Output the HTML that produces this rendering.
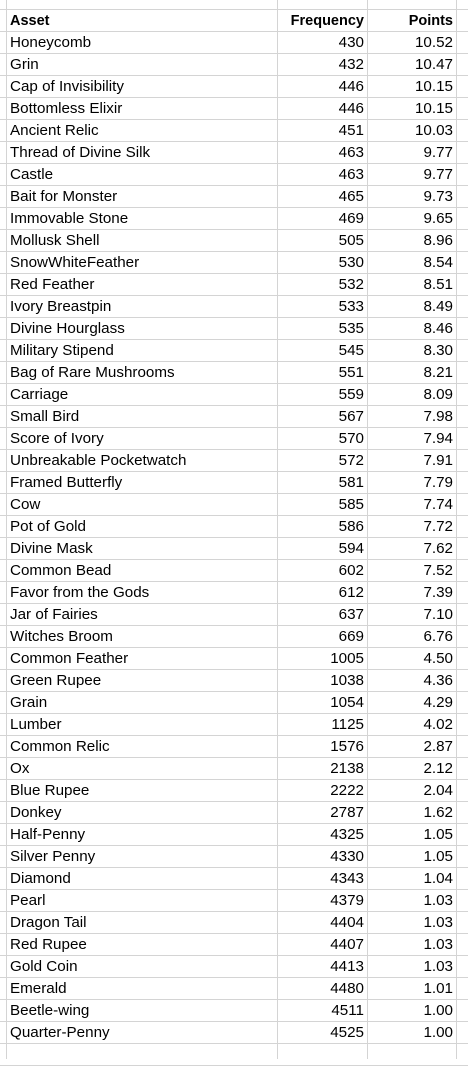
<!DOCTYPE html>
<html><head><meta charset="utf-8">
<style>
html,body{margin:0;padding:0;background:#fff;width:468px;height:1059px;overflow:hidden;}
#sheet{position:absolute;left:0;top:0;width:468px;height:1059px;font-family:"Liberation Sans",Arial,sans-serif;font-size:15.2px;color:#000;}
.hl{position:absolute;left:0;width:468px;height:1px;background:#d4d4d4;}
.vl{position:absolute;top:0;width:1px;height:1059px;background:#d4d4d4;}
.cell{position:absolute;height:22px;line-height:24px;white-space:nowrap;overflow:hidden;}
.b{font-weight:bold;font-size:14.5px;}
</style></head>
<body>
<div id="sheet"></div>
<script>
const assets = ["Honeycomb","Grin","Cap of Invisibility","Bottomless Elixir","Ancient Relic","Thread of Divine Silk","Castle","Bait for Monster","Immovable Stone","Mollusk Shell","SnowWhiteFeather","Red Feather","Ivory Breastpin","Divine Hourglass","Military Stipend","Bag of Rare Mushrooms","Carriage","Small Bird","Score of Ivory","Unbreakable Pocketwatch","Framed Butterfly","Cow","Pot of Gold","Divine Mask","Common Bead","Favor from the Gods","Jar of Fairies","Witches Broom","Common Feather","Green Rupee","Grain","Lumber","Common Relic","Ox","Blue Rupee","Donkey","Half-Penny","Silver Penny","Diamond","Pearl","Dragon Tail","Red Rupee","Gold Coin","Emerald","Beetle-wing","Quarter-Penny"];
const frequency = [430,432,446,446,451,463,463,465,469,505,530,532,533,535,545,551,559,567,570,572,581,585,586,594,602,612,637,669,1005,1038,1054,1125,1576,2138,2222,2787,4325,4330,4343,4379,4404,4407,4413,4480,4511,4525];
const points = ["10.52","10.47","10.15","10.15","10.03","9.77","9.77","9.73","9.65","8.96","8.54","8.51","8.49","8.46","8.30","8.21","8.09","7.98","7.94","7.91","7.79","7.74","7.72","7.62","7.52","7.39","7.10","6.76","4.50","4.36","4.29","4.02","2.87","2.12","2.04","1.62","1.05","1.05","1.04","1.03","1.03","1.03","1.03","1.01","1.00","1.00"];
const headers = ["Asset","Frequency","Points"];

const sheet = document.getElementById('sheet');
const top0 = 9, rowH = 22;
const nRows = assets.length + 2;
for (let k = 0; k <= nRows; k++) {
  const l = document.createElement('div');
  l.className = 'hl';
  l.style.top = (top0 + k * rowH) + 'px';
  
  
  sheet.appendChild(l);
}
[6, 277, 367, 456].forEach(x => {
  const l = document.createElement('div');
  l.className = 'vl';
  l.style.left = x + 'px';
  
  
  sheet.appendChild(l);
});
function cell(text, row, col, bold, name) {
  const c = document.createElement('div');
  c.className = 'cell' + (bold ? ' b' : '');
  c.textContent = text;
  c.style.top = (top0 + row * rowH) + 'px';
  if (col === 0) { c.style.left = '10px'; c.style.width = '265px'; }
  else if (col === 1) { c.style.left = '278px'; c.style.width = '86px'; c.style.textAlign = 'right'; }
  else { c.style.left = '368px'; c.style.width = '85px'; c.style.textAlign = 'right'; }
  
  
  sheet.appendChild(c);
}
cell(headers[0], 0, 0, true, 'asset-header');
cell(headers[1], 0, 1, true, 'frequency-header');
cell(headers[2], 0, 2, true, 'points-header');
for (let i = 0; i < assets.length; i++) {
  cell(assets[i], i + 1, 0, false, 'asset-cell');
  cell(String(frequency[i]), i + 1, 1, false, 'frequency-cell');
  cell(points[i], i + 1, 2, false, 'points-cell');
}
</script>
</body></html>
